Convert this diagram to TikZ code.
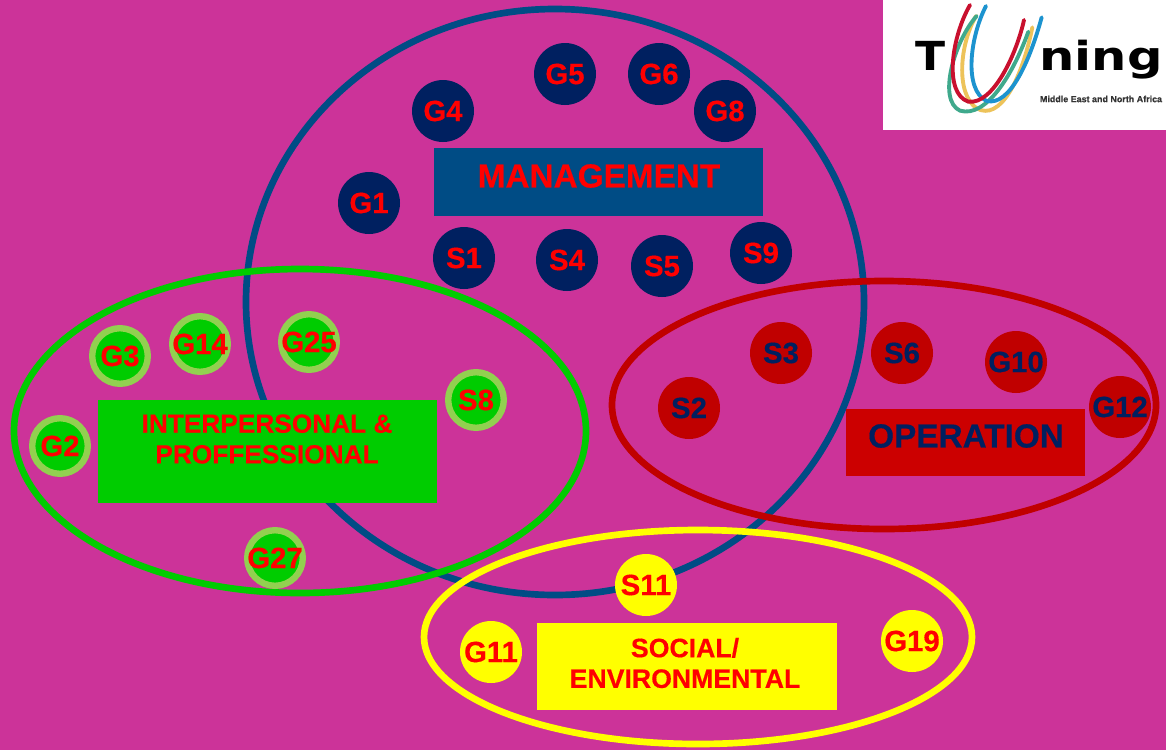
\documentclass[tikz,border=0pt]{standalone}
\usepackage{fontspec}
\setmainfont[BoldFeatures={FakeBold=0.4}]{Liberation Sans}
\newfontfamily\logofont{DejaVu Sans}
\definecolor{bgc}{HTML}{CC3399}
\definecolor{navyc}{HTML}{002060}
\definecolor{bluec}{HTML}{004C85}
\definecolor{greenc}{HTML}{00CC00}
\definecolor{ringc}{HTML}{92D050}
\definecolor{redc}{HTML}{C00000}
\definecolor{opc}{HTML}{CC0000}
\definecolor{yelc}{HTML}{FFFF00}
\definecolor{lgred}{HTML}{C8102E}
\definecolor{lggreen}{HTML}{3FA98C}
\definecolor{lgyel}{HTML}{EDC35A}
\definecolor{lgblue}{HTML}{1C93CF}
\tikzset{
  x=0.75pt,y=-0.75pt,
  bubble/.style={circle,inner sep=-8pt,minimum size=46.5pt,font=\bfseries\fontsize{22}{24}\selectfont,text=red},
  mgmt/.style={bubble,fill=navyc},
  oper/.style={bubble,fill=redc,text=navyc},
  inter/.style={bubble,fill=greenc,draw=ringc,line width=4.8pt,minimum size=41.7pt},
  soc/.style={bubble,fill=yelc},
  ring/.style={line width=5pt},
  title/.style={inner sep=0pt,align=center,font=\bfseries},
  lgline/.style={line width=2.9pt,line cap=round},
  logotext/.style={anchor=center,inner sep=0pt,transform shape,text=black,font=\logofont\bfseries\fontsize{30}{30}\selectfont},
}
\begin{document}
\begin{tikzpicture}
\useasboundingbox (0,0) rectangle (1166,750);
\fill[bgc] (0,0) rectangle (1166,750);
% logo
\fill[white] (883,0) rectangle (1166,130);
\node[logotext,xscale=1.1] (logoT) at (930,56) {T};
\node[logotext,xscale=1.24] (logoN) at (1101,60) {ning};
\node[anchor=center,inner sep=0pt,font=\bfseries\fontsize{6.7}{8}\selectfont,text=black!80] (logoS) at (1101,99) {Middle East and North Africa};
\begin{scope}[shift={(880,0)},x=0.25pt,y=-0.25pt]
\draw[lgline,lgyel] (288,48) .. controls (240,130) and (225,280) .. (290,325) .. controls (360,365) and (425,240) .. (457,82);
\draw[lgline,lggreen] (290,48) .. controls (225,120) and (170,300) .. (240,332) .. controls (320,355) and (400,220) .. (445,95);
\draw[lgline,lgblue] (318,18) .. controls (270,110) and (250,270) .. (320,303) .. controls (390,320) and (450,180) .. (485,52);
\draw[lgline,lgred] (270,15) .. controls (215,110) and (190,280) .. (265,305) .. controls (340,315) and (410,160) .. (432,60);
\end{scope}
% rings
\draw[ring,bluec] (555,302) ellipse [x radius=309,y radius=293];
\draw[ring,yelc] (698,637) ellipse [x radius=274,y radius=107];
\draw[ring,redc] (884,405) ellipse [x radius=272,y radius=124];
\draw[ring,greenc] (300,431) ellipse [x radius=286,y radius=162];
% title boxes
\fill[bluec] (434,148) rectangle (763,216);
\fill[greenc] (98,400) rectangle (437,503);
\fill[opc] (846,409) rectangle (1085,476);
\fill[yelc] (537,623) rectangle (837,710);
\node[title,text=red,font=\bfseries\fontsize{25}{28}\selectfont] (management) at (599,176) {MANAGEMENT};
\node[title,text=red,font=\bfseries\fontsize{19.7}{23}\selectfont] (interpersonal) at (267,439) {INTERPERSONAL \&\\PROFFESSIONAL};
\node[title,text=navyc,font=\bfseries\fontsize{25}{28}\selectfont] (operation) at (966,436) {OPERATION};
\node[title,text=red,font=\bfseries\fontsize{20}{23}\selectfont] (social) at (685,663) {SOCIAL/\\ENVIRONMENTAL};
% management
\node[mgmt] (G5) at (565,74) {G5};
\node[mgmt] (G6) at (659,74) {G6};
\node[mgmt] (G8) at (725,111) {G8};
\node[mgmt] (G4) at (443,111) {G4};
\node[mgmt] (G1) at (369,203) {G1};
\node[mgmt] (S1) at (464,258) {S1};
\node[mgmt] (S4) at (567,260) {S4};
\node[mgmt] (S5) at (662,266) {S5};
\node[mgmt] (S9) at (761,253) {S9};
% operation
\node[oper] (S3) at (781,353) {S3};
\node[oper] (S6) at (902,353) {S6};
\node[oper] (G10) at (1016,362) {G10};
\node[oper] (S2) at (689,408) {S2};
\node[oper] (G12) at (1120,407) {G12};
% interpersonal
\node[inter] (G3) at (120,356) {G3};
\node[inter] (G14) at (200,344) {G14};
\node[inter] (G25) at (309,342) {G25};
\node[inter] (S8) at (476,400) {S8};
\node[inter] (G2) at (60,446) {G2};
\node[inter] (G27) at (275,558) {G27};
% social
\node[soc] (S11) at (646,585) {S11};
\node[soc] (G11) at (491,652) {G11};
\node[soc] (G19) at (912,641) {G19};
\end{tikzpicture}
\end{document}
